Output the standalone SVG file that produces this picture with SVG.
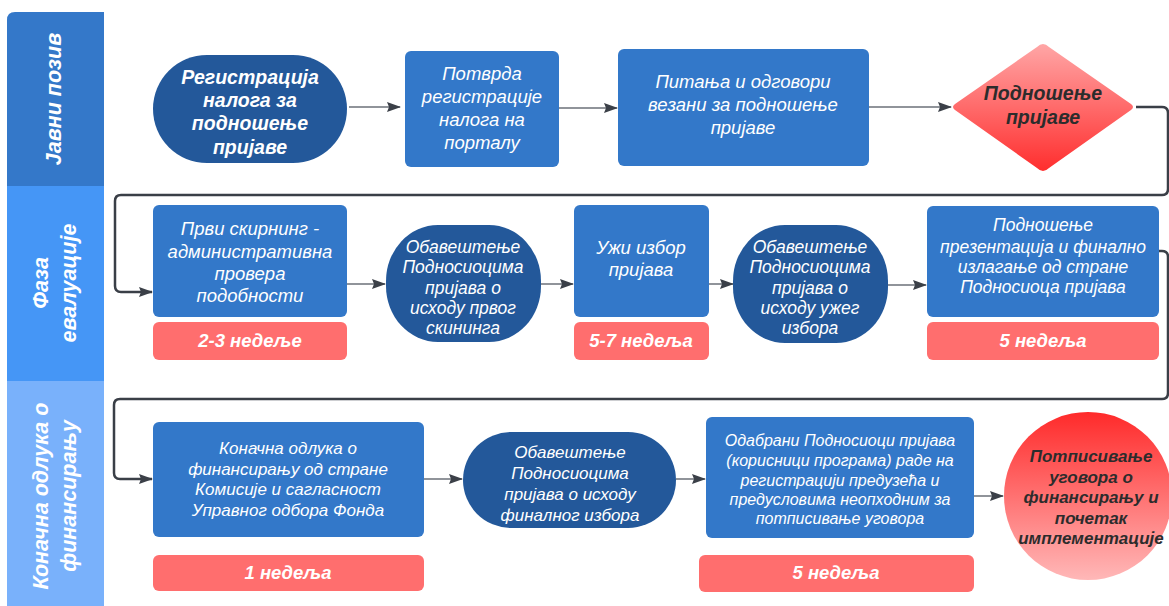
<svg xmlns="http://www.w3.org/2000/svg" width="1169" height="606" viewBox="0 0 1169 606">
<style>
.t{font-family:"Liberation Sans",Arial,sans-serif;font-style:italic;fill:#fff;text-anchor:middle}
.s16{font-size:16px}
.s17{font-size:17px}
.s175{font-size:17.5px}
.s18{font-size:18.5px}
.sb{font-size:19.5px}
.sw{font-size:18.5px}
.b{font-weight:bold}
.dk{fill:#2c2c2c}
.rect{fill:#3378C9}
.stad{fill:#23589A}
.lbl{fill:#FF6E6E}
.lane{font-family:"Liberation Sans",Arial,sans-serif;font-style:italic;font-weight:bold;font-size:21.5px;fill:#fff;text-anchor:middle}
.ar{fill:none;stroke:#6b7078;stroke-width:1.5}
.big{fill:none;stroke:#3a3f47;stroke-width:2.5}
</style>
<defs>
<marker id="ah" viewBox="0 0 14 10" refX="13" refY="5" markerWidth="14" markerHeight="10" markerUnits="userSpaceOnUse" orient="auto">
<path d="M0,0 L14,5 L0,10 L2,5 z" fill="#3b4048"/>
</marker>
<linearGradient id="gd" x1="0" y1="0" x2="0" y2="1">
<stop offset="0" stop-color="#FFA6A6"/>
<stop offset="1" stop-color="#FF2E2E"/>
</linearGradient>
<linearGradient id="gc" x1="0" y1="0" x2="0" y2="1">
<stop offset="0" stop-color="#FF2A2A"/>
<stop offset="1" stop-color="#FFB8B8"/>
</linearGradient>
</defs>
<rect width="1169" height="606" fill="#fff"/>

<g id="lanes">
<path d="M7 20 Q7 12 15 12 H104 V186 H7 z" fill="#3478C9"/>
<rect x="7" y="186" width="97" height="195" fill="#4596F6"/>
<rect x="7" y="381" width="97" height="225" fill="#79B1FB"/>
<text class="lane" transform="translate(0,99) rotate(-90)" x="0" y="61">Јавни позив</text>
<text class="lane" transform="translate(0,283) rotate(-90)" x="0" y="48">Фаза</text>
<text class="lane" transform="translate(0,283) rotate(-90)" x="0" y="76">евалуације</text>
<text class="lane" transform="translate(0,496) rotate(-90)" x="0" y="48">Коначна одлука о</text>
<text class="lane" transform="translate(0,496) rotate(-90)" x="0" y="76">финансирању</text>
</g>

<g id="connectors">
<path class="ar" d="M349 107 H400" marker-end="url(#ah)"/>
<path class="ar" d="M559 108 H617" marker-end="url(#ah)"/>
<path class="ar" d="M869 107 H951" marker-end="url(#ah)"/>
<path class="big" d="M1136 107 H1162 Q1168 107 1168 113 V189 Q1168 195 1162 195 H121 Q115 195 115 201 V286 Q115 292 121 292 H152" marker-end="url(#ah)"/>
<path class="ar" d="M347 284 H385" marker-end="url(#ah)"/>
<path class="ar" d="M541 284 H573" marker-end="url(#ah)"/>
<path class="ar" d="M709 284 H733" marker-end="url(#ah)"/>
<path class="ar" d="M888 285 H926" marker-end="url(#ah)"/>
<path class="big" d="M1159 251 H1162 Q1168 251 1168 257 V393 Q1168 399 1162 399 H120 Q114 399 114 405 V473 Q114 479 120 479 H152" marker-end="url(#ah)"/>
<path class="ar" d="M424 479 H462" marker-end="url(#ah)"/>
<path class="ar" d="M676 479 H705" marker-end="url(#ah)"/>
<path class="ar" d="M974 496 H1003" marker-end="url(#ah)"/>
</g>

<g id="n1">
<rect class="stad" x="153" y="55" width="194" height="108" rx="54"/>
<text class="t b sb" x="250"><tspan x="250" y="84">Регистрација</tspan><tspan x="250" y="107">налога за</tspan><tspan x="250" y="130">подношење</tspan><tspan x="250" y="154">пријаве</tspan></text>
</g>
<g id="n2">
<rect class="rect" x="405" y="51" width="154" height="116" rx="6"/>
<text class="t s18" x="482"><tspan x="482" y="80">Потврда</tspan><tspan x="482" y="103">регистрације</tspan><tspan x="482" y="126">налога на</tspan><tspan x="482" y="149">порталу</tspan></text>
</g>
<g id="n3">
<rect class="rect" x="618" y="49" width="251" height="117" rx="6"/>
<text class="t s18" x="743"><tspan x="743" y="88">Питања и одговори</tspan><tspan x="743" y="111">везани за подношење</tspan><tspan x="743" y="134">пријаве</tspan></text>
</g>
<g id="n4">
<path d="M1043 44 Q1046 44 1049 47 L1131 104 Q1135 107 1131 110 L1049 168 Q1046 171 1043 171 Q1040 171 1037 168 L955 110 Q951 107 955 104 L1037 47 Q1040 44 1043 44 z" fill="url(#gd)"/>
<text class="t b dk sb" x="1043"><tspan x="1043" y="100">Подношење</tspan><tspan x="1043" y="124">пријаве</tspan></text>
</g>

<g id="n5">
<rect class="rect" x="153" y="205" width="194" height="112" rx="6"/>
<text class="t s18" x="250"><tspan x="250" y="235">Први скирнинг -</tspan><tspan x="250" y="258">административна</tspan><tspan x="250" y="280">провера</tspan><tspan x="250" y="302">подобности</tspan></text>
</g>
<g id="l1">
<rect class="lbl" x="153" y="322" width="194" height="38" rx="6"/>
<text class="t b sw" x="250" y="347">2-3 недеље</text>
</g>
<g id="n6">
<rect class="stad" x="386" y="225" width="155" height="117" rx="52" ry="56"/>
<text class="t s175" x="463"><tspan x="463" y="253">Обавештење</tspan><tspan x="463" y="273">Подносиоцима</tspan><tspan x="463" y="294">пријава о</tspan><tspan x="463" y="314">исходу првог</tspan><tspan x="463" y="334">скининга</tspan></text>
</g>
<g id="n7">
<rect class="rect" x="574" y="205" width="135" height="112" rx="6"/>
<text class="t s18" x="641"><tspan x="641" y="254">Ужи избор</tspan><tspan x="641" y="276">пријава</tspan></text>
</g>
<g id="l2">
<rect class="lbl" x="574" y="322" width="135" height="38" rx="6"/>
<text class="t b sw" x="641" y="347">5-7 недеља</text>
</g>
<g id="n8">
<rect class="stad" x="733" y="225" width="155" height="118" rx="52" ry="56"/>
<text class="t s175" x="810"><tspan x="810" y="253">Обавештење</tspan><tspan x="810" y="273">Подносиоцима</tspan><tspan x="810" y="294">пријава о</tspan><tspan x="810" y="314">исходу ужег</tspan><tspan x="810" y="334">избора</tspan></text>
</g>
<g id="n9">
<rect class="rect" x="927" y="206" width="232" height="111" rx="6"/>
<text class="t s175" x="1043"><tspan x="1043" y="231">Подношење</tspan><tspan x="1043" y="253">презентација и финално</tspan><tspan x="1043" y="273">излагање од стране</tspan><tspan x="1043" y="293">Подносиоца пријава</tspan></text>
</g>
<g id="l3">
<rect class="lbl" x="927" y="322" width="232" height="38" rx="6"/>
<text class="t b sw" x="1043" y="347">5 недеља</text>
</g>

<g id="n10">
<rect class="rect" x="153" y="422" width="271" height="115" rx="6"/>
<text class="t s17" x="288"><tspan x="288" y="454">Коначна одлука о</tspan><tspan x="288" y="475">финансирању од стране</tspan><tspan x="288" y="495">Комисије и сагласност</tspan><tspan x="288" y="516">Управног одбора Фонда</tspan></text>
</g>
<g id="l4">
<rect class="lbl" x="153" y="555" width="271" height="36" rx="6"/>
<text class="t b sw" x="288" y="579">1 недеља</text>
</g>
<g id="n11">
<rect class="stad" x="463" y="432" width="213" height="96" rx="48"/>
<text class="t s17" x="570"><tspan x="570" y="458">Обавештење</tspan><tspan x="570" y="479">Подносиоцима</tspan><tspan x="570" y="500">пријава о исходу</tspan><tspan x="570" y="521">финалног избора</tspan></text>
</g>
<g id="n12">
<rect class="rect" x="706" y="417" width="268" height="121" rx="6"/>
<text class="t s16" x="840"><tspan x="840" y="446">Одабрани Подносиоци пријава</tspan><tspan x="840" y="466">(корисници програма) раде на</tspan><tspan x="840" y="486">регистрацији предузећа и</tspan><tspan x="840" y="505">предусловима неопходним за</tspan><tspan x="840" y="524">потписивање уговора</tspan></text>
</g>
<g id="l5">
<rect class="lbl" x="699" y="555" width="275" height="37" rx="6"/>
<text class="t b sw" x="836" y="579">5 недеља</text>
</g>
<g id="n13">
<circle cx="1088" cy="496" r="84" fill="url(#gc)"/>
<text class="t b dk s17" x="1091"><tspan x="1091" y="462">Потписивање</tspan><tspan x="1091" y="483">уговора о</tspan><tspan x="1091" y="503">финансирању и</tspan><tspan x="1091" y="524">почетак</tspan><tspan x="1091" y="544">имплементације</tspan></text>
</g>
</svg>
